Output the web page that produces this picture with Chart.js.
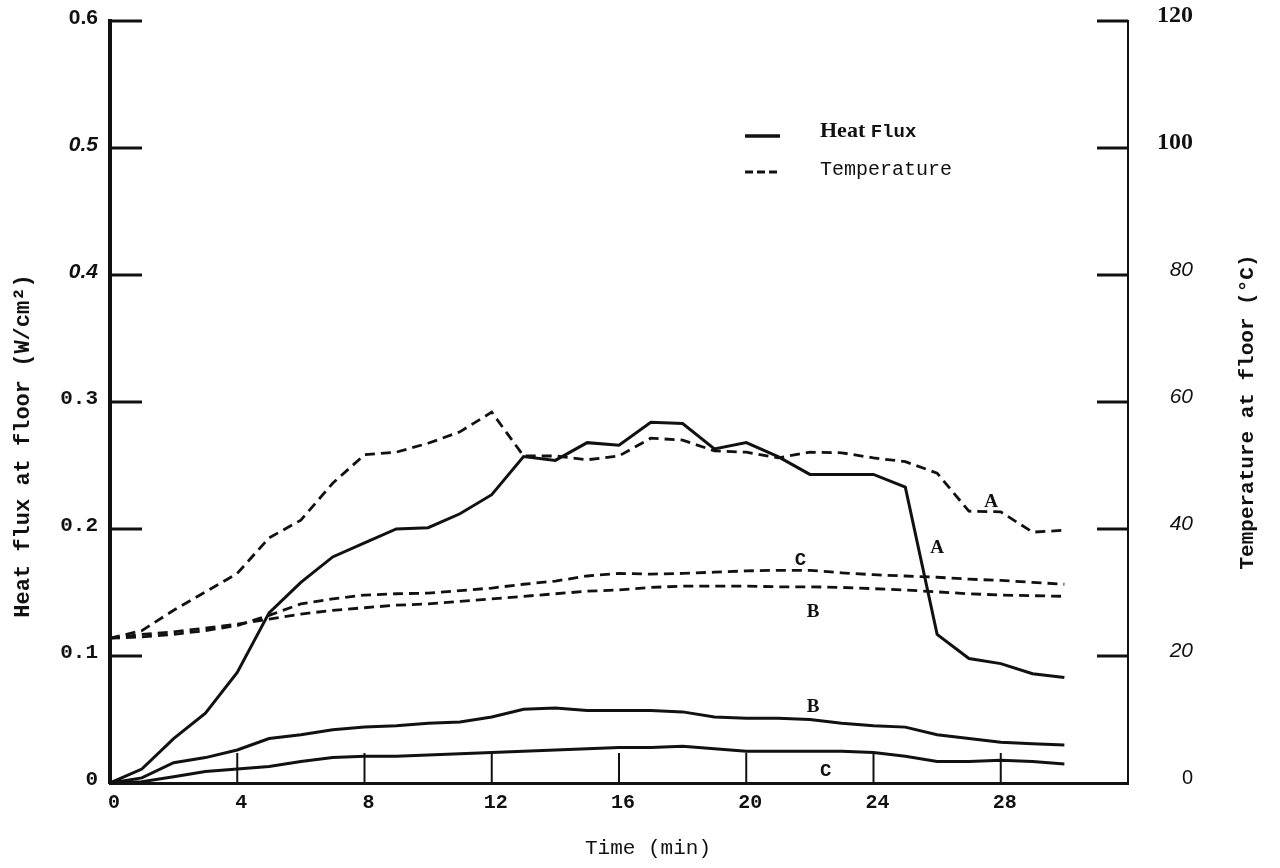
<!DOCTYPE html>
<html>
<head>
<meta charset="utf-8">
<title>Heat flux and temperature at floor</title>
<script src="https://cdn.jsdelivr.net/npm/chart.js@4.4.1/dist/chart.umd.min.js"></script>
<style>
  html, body { margin: 0; padding: 0; background: #fff; }
  #wrap { width: 1280px; height: 868px; }
</style>
</head>
<body>
<div id="wrap"><canvas id="floorChart" width="1280" height="868"></canvas></div>
<script>
// time in minutes
const minutes = [0, 1, 2, 3, 4, 5, 6, 7, 8, 9, 10, 11, 12, 13, 14, 15, 16, 17, 18, 19, 20,
                 21, 22, 23, 24, 25, 26, 27, 28, 29, 30];

// heat flux at floor (W/cm2)
const fluxA = [0, 0.011, 0.035, 0.055, 0.087, 0.134, 0.158, 0.178, 0.189, 0.200, 0.201,
               0.212, 0.227, 0.257, 0.254, 0.268, 0.266, 0.284, 0.283, 0.263, 0.268,
               0.257, 0.243, 0.243, 0.243, 0.233, 0.117, 0.098, 0.094, 0.086, 0.083];
const fluxB = [0, 0.004, 0.016, 0.020, 0.026, 0.035, 0.038, 0.042, 0.044, 0.045, 0.047,
               0.048, 0.052, 0.058, 0.059, 0.057, 0.057, 0.057, 0.056, 0.052, 0.051,
               0.051, 0.050, 0.047, 0.045, 0.044, 0.038, 0.035, 0.032, 0.031, 0.030];
const fluxC = [0, 0.001, 0.005, 0.009, 0.011, 0.013, 0.017, 0.020, 0.021, 0.021, 0.022,
               0.023, 0.024, 0.025, 0.026, 0.027, 0.028, 0.028, 0.029, 0.027, 0.025,
               0.025, 0.025, 0.025, 0.024, 0.021, 0.017, 0.017, 0.018, 0.017, 0.015];

// temperature at floor (deg C)
const tempA = [22.8, 24.0, 27.2, 30.1, 33.0, 38.6, 41.4, 47.2, 51.7, 52.1, 53.5,
               55.3, 58.4, 51.5, 51.5, 50.9, 51.5, 54.3, 54.0, 52.3, 52.1,
               51.2, 52.1, 52.0, 51.2, 50.6, 48.8, 42.8, 42.7, 39.5, 39.8];
const tempB = [22.8, 23.4, 23.8, 24.4, 25.0, 25.8, 26.6, 27.2, 27.6, 28.0, 28.2,
               28.6, 29.0, 29.4, 29.8, 30.2, 30.4, 30.8, 31.0, 31.0, 31.0,
               30.9, 30.9, 30.8, 30.6, 30.4, 30.1, 29.8, 29.6, 29.5, 29.4];
const tempC = [22.8, 23.0, 23.4, 24.0, 24.8, 26.4, 28.2, 29.0, 29.6, 29.8, 29.9,
               30.3, 30.7, 31.3, 31.8, 32.6, 33.0, 32.9, 33.0, 33.2, 33.4,
               33.5, 33.5, 33.1, 32.8, 32.6, 32.4, 32.1, 31.9, 31.6, 31.3];

// tick labels
const timeTicks = ['0', '4', '8', '12', '16', '20', '24', '28', ''];
const fluxTicks = ['0', '0.1', '0.2', '0.3', '0.4', '0.5', '0.6'];
const tempTicks = ['0', '20', '40', '60', '80', '100', '120'];

// letters written next to the curves: [text, minute, value, axis]
const curveLetters = [
  ['A', 27.7, 44.3, 'y2'],
  ['A', 26.0, 0.185, 'y'],
  ['C', 21.7, 35.1, 'y2'],
  ['B', 22.1, 26.9, 'y2'],
  ['B', 22.1, 0.060, 'y'],
  ['C', 22.5, 0.009, 'y']
];

const ink = '#111';
const mono = '"Liberation Mono", "Courier New", monospace';
const sans = '"Liberation Sans", Arial, sans-serif';
const serif = '"Liberation Serif", "Times New Roman", serif';

function pts(ys) {
  return minutes.map((m, i) => ({ x: m, y: ys[i] }));
}

function solid(ys) {
  return { data: pts(ys), yAxisID: 'y', borderColor: ink, borderWidth: 3,
           pointRadius: 0, tension: 0, fill: false };
}
function dashed(ys) {
  return { data: pts(ys), yAxisID: 'y2', borderColor: ink, borderWidth: 2.8,
           borderDash: [10, 6], pointRadius: 0, tension: 0, fill: false };
}

// tick marks drawn inside the frame, titles, legend and curve letters
const decorations = {
  id: 'decorations',
  afterDraw(chart) {
    const { ctx, scales } = chart;
    const xs = scales.x, ys = scales.y, ts = scales.y2;
    ctx.save();
    ctx.strokeStyle = ink;
    ctx.lineCap = 'butt';

    ctx.lineWidth = 3;
    ys.ticks.forEach(t => {
      if (t.value === 0) return;
      const py = ys.getPixelForValue(t.value);
      ctx.beginPath(); ctx.moveTo(xs.left, py); ctx.lineTo(xs.left + 32, py); ctx.stroke();
    });
    ts.ticks.forEach(t => {
      if (t.value === 0) return;
      const py = ts.getPixelForValue(t.value);
      ctx.beginPath(); ctx.moveTo(xs.right - 31, py); ctx.lineTo(xs.right, py); ctx.stroke();
    });
    ctx.lineWidth = 2;
    xs.ticks.forEach(t => {
      if (t.value === 0 || t.value === xs.max) return;
      const px = xs.getPixelForValue(t.value);
      ctx.beginPath(); ctx.moveTo(px, ys.bottom); ctx.lineTo(px, ys.bottom - 30); ctx.stroke();
    });

    ctx.fillStyle = ink;
    ctx.textBaseline = 'middle';

    // axis titles
    ctx.textAlign = 'center';
    ctx.font = '21px ' + mono;
    ctx.fillText('Time (min)', 648, 848);

    ctx.save();
    ctx.translate(23, 446);
    ctx.rotate(-Math.PI / 2);
    ctx.font = 'bold 22px ' + mono;
    ctx.fillText('Heat flux at floor (W/cm²)', 0, 0);
    ctx.restore();

    ctx.save();
    ctx.translate(1248, 412);
    ctx.rotate(-Math.PI / 2);
    ctx.font = 'bold 21px ' + mono;
    ctx.fillText('Temperature at floor (°C)', 0, 0);
    ctx.restore();

    // legend
    ctx.lineWidth = 3.5;
    ctx.beginPath(); ctx.moveTo(745, 136); ctx.lineTo(780, 136); ctx.stroke();
    ctx.lineWidth = 3;
    ctx.setLineDash([8, 4]);
    ctx.beginPath(); ctx.moveTo(745, 172); ctx.lineTo(778, 172); ctx.stroke();
    ctx.setLineDash([]);
    ctx.textAlign = 'left';
    ctx.font = 'bold 22px ' + serif;
    ctx.fillText('Heat', 820, 131);
    const w = ctx.measureText('Heat ').width;
    ctx.font = 'bold 19px ' + mono;
    ctx.fillText('Flux', 820 + w, 132);
    ctx.font = '20px ' + mono;
    ctx.fillText('Temperature', 820, 170);

    // curve letters
    ctx.textAlign = 'center';
    curveLetters.forEach(([txt, m, v, axis]) => {
      ctx.font = txt === 'C' ? 'bold 19px ' + mono : 'bold 19px ' + serif;
      ctx.fillText(txt, xs.getPixelForValue(m), scales[axis].getPixelForValue(v));
    });
    ctx.restore();
  }
};

const fluxFonts = i => (i === 4 || i === 5)
  ? { family: sans, size: 21, style: 'italic', weight: 'bold' }
  : (i === 6 ? { family: sans, size: 21, weight: 'bold' }
             : { family: mono, size: 21, weight: 'bold' });
const tempFonts = i => (i >= 5)
  ? { family: serif, size: 24, weight: 'bold' }
  : (i === 0 ? { family: sans, size: 20 } : { family: sans, size: 21, style: 'italic' });

// keep the tick padding from pushing the plot frame down
function fixVertical(width) {
  return s => { s.width = width; s.paddingTop = 0; s.paddingBottom = 0; };
}

new Chart(document.getElementById('floorChart'), {
  type: 'line',
  data: {
    datasets: [solid(fluxA), solid(fluxB), solid(fluxC),
               dashed(tempA), dashed(tempB), dashed(tempC)]
  },
  options: {
    responsive: false,
    animation: false,
    layout: { padding: { top: 21, right: 87, left: 0, bottom: 0 } },
    plugins: { legend: { display: false }, tooltip: { enabled: false } },
    scales: {
      x: {
        type: 'linear', min: 0, max: 32,
        grid: { display: false, drawTicks: false },
        border: { display: true, width: 3, color: ink },
        ticks: {
          stepSize: 4, color: ink, padding: 8, labelOffset: 4,
          maxRotation: 0, autoSkip: false,
          font: { family: mono, size: 20, weight: 'bold' },
          callback: (v, i) => timeTicks[i]
        },
        afterFit: s => { s.height = 85; s.paddingLeft = 0; s.paddingRight = 0; }
      },
      y: {
        position: 'left', min: 0, max: 0.6,
        grid: { display: false, drawTicks: false },
        border: { display: true, width: 4, color: ink },
        ticks: {
          stepSize: 0.1, color: ink, padding: 12, labelOffset: -3,
          font: c => fluxFonts(c.index),
          callback: (v, i) => fluxTicks[i]
        },
        afterFit: fixVertical(110)
      },
      y2: {
        position: 'right', min: 0, max: 120,
        grid: { display: false, drawTicks: false },
        border: { display: true, width: 2, color: ink },
        ticks: {
          stepSize: 20, color: ink, padding: 26, labelOffset: -5, crossAlign: 'far',
          font: c => tempFonts(c.index),
          callback: (v, i) => tempTicks[i]
        },
        afterFit: fixVertical(65)
      }
    }
  },
  plugins: [decorations]
});
</script>
</body>
</html>
